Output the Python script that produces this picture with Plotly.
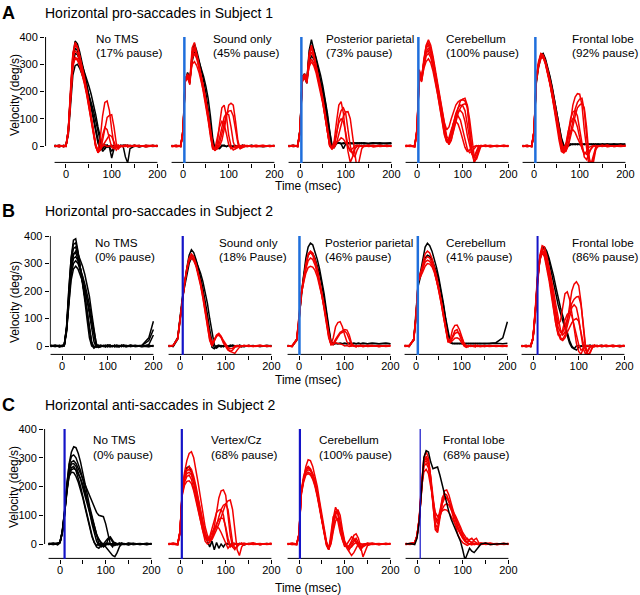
import plotly.graph_objects as go

# ---------------------------------------------------------------- data
# time base (msec) shared by every velocity trace
T = [-25, -15, -5, 0, 5, 10, 15, 20, 25, 30, 35, 40, 45, 50, 55, 60, 65,
     70, 75, 80, 85, 90, 95, 100, 105, 110, 115, 120, 125, 130, 135, 140,
     150, 160, 175, 190, 200]

# velocity traces (deg/s); _K = black (no pause), _R = red (pause)
# ---- row A : horizontal pro-saccades, subject 1
A1_K = [
    [2, -3, 3, 0, 60, 200, 330, 385, 375, 345, 310, 270, 230, 185, 140, 95, 50, 10, -10, -5, 0, 3, -2, 0, 2, -3, 0, 2, -2, 0, 3, -2, 2, -3, 2, 0, 2],
    [-3, 2, -2, 2, 40, 150, 260, 295, 300, 285, 265, 240, 215, 190, 160, 130, 95, 55, 15, -20, -10, 0, -5, -44, -10, 0, -5, 3, 0, -40, -62, -10, 0, 2, -3, 2, 0],
    [0, 3, -3, 0, 50, 180, 300, 340, 335, 315, 290, 260, 225, 190, 150, 110, 65, 20, -15, -10, 5, -5, 0, 3, -3, 0, 2, -2, 0, 3, -2, 2, 0, -3, 2, -2, 0],
    [3, -2, 0, 2, 55, 190, 320, 360, 350, 325, 300, 275, 250, 220, 190, 155, 115, 70, 25, -5, -10, 3, -3, -20, -5, 2, 0, -2, 3, 0, -2, 0, 3, -2, 0, 2, 0],
]
A1_R = [
    [0, -3, 2, 0, 45, 170, 290, 325, 320, 300, 270, 235, 195, 150, 100, 45, 0, -20, 30, 110, 160, 165, 130, 60, 5, -15, -5, 0, 2, -2, 0, 3, -2, 2, -2, 0, 2],
    [2, 0, -2, 3, 60, 210, 340, 380, 365, 330, 290, 250, 205, 160, 110, 55, 5, -25, -15, 20, 70, 105, 112, 115, 70, 10, -10, 0, -3, 2, 0, -2, 3, 0, -2, 2, 0],
    [-2, 3, 0, -2, 55, 190, 320, 350, 340, 310, 275, 240, 200, 155, 105, 50, 0, -25, -5, 40, 68, 60, 25, -5, -10, 0, 3, -2, 0, 2, -3, 0, 2, -2, 3, 0, -2],
    [0, 2, -3, 0, 50, 180, 300, 320, 315, 295, 265, 230, 190, 145, 95, 40, -5, -20, -15, 0, 15, 30, 40, 35, 15, -5, 0, 2, -2, 0, 3, -2, 0, 2, -3, 0, 2],
    [0, -2, 2, 0, 58, 205, 335, 370, 360, 330, 295, 255, 210, 160, 110, 55, 5, -15, -10, 0, 3, -2, 0, 2, -3, 0, 2, -2, 0, 3, -2, 0, 2, -2, 0, 3, -2],
]
A2_K = [
    [0, 2, -2, 60, 250, 255, 230, 340, 375, 350, 315, 280, 240, 195, 140, 75, 10, -12, -8, -10, 0, 3, -2, 2, 0, -3, 2, 0, -2, 3, 0, -2, 2, 0, -3, 0, 2],
    [2, -2, 0, 50, 240, 270, 250, 310, 345, 335, 310, 285, 255, 220, 175, 110, 30, -10, -5, -8, 3, 0, -2, 3, -2, 0, 2, -3, 0, 2, -2, 0, 3, -2, 0, 2, 0],
]
A2_R = [
    [0, 3, -2, 55, 245, 260, 240, 360, 380, 345, 300, 255, 210, 160, 105, 45, -10, -15, 10, 80, 140, 150, 110, 40, 0, -15, -10, 0, 2, -2, 0, 2, -3, 0, 2, -2, 0],
    [-2, 0, 3, 50, 235, 250, 225, 330, 355, 330, 295, 255, 215, 170, 115, 55, 0, -15, -10, 0, 20, 60, 110, 150, 157, 150, 90, 20, -10, 0, 2, -2, 0, 3, -2, 0, 2],
    [2, -3, 0, 55, 240, 265, 245, 300, 310, 295, 270, 240, 200, 155, 100, 40, -5, -15, -5, 30, 75, 105, 120, 115, 70, 15, -10, -5, 0, 2, -2, 0, 2, -3, 0, 2, -2],
    [0, 2, -2, 50, 245, 255, 235, 345, 365, 335, 290, 245, 200, 150, 95, 35, -10, -10, 25, 70, 90, 80, 45, 5, -10, -5, 0, 2, -2, 0, 3, -2, 0, 2, -2, 0, 2],
    [-3, 0, 2, 60, 250, 260, 240, 320, 340, 320, 290, 255, 215, 170, 120, 60, 5, -15, -10, 10, 40, 80, 115, 128, 130, 110, 60, 10, -10, -5, 0, 2, -2, 0, 3, -2, 0],
]
A3_K = [
    [2, -2, 0, 60, 255, 265, 240, 350, 390, 360, 320, 280, 240, 195, 145, 85, 20, -10, 5, 12, 10, 8, 12, 10, 8, 12, 10, 8, 10, 12, 8, 10, 8, 10, 8, 10, 8],
    [0, 3, -2, 55, 245, 250, 230, 310, 330, 320, 300, 270, 240, 205, 165, 110, 40, -5, 10, 8, 12, 10, 8, 12, 10, 8, 10, 12, 8, 10, 12, 8, 10, 12, 8, 10, 12],
    [-2, 2, 0, 58, 250, 260, 238, 335, 370, 355, 325, 295, 260, 220, 175, 120, 55, 5, -5, 10, 12, 8, -10, 8, 12, 10, 8, 10, 12, 8, 10, 12, 8, 10, 12, 8, 10],
]
A3_R = [
    [-2, 0, 2, 50, 240, 260, 235, 340, 370, 340, 300, 255, 210, 160, 105, 45, 0, -10, 20, 90, 150, 163, 120, 40, -20, -60, -40, -10, 0, 3, -2, 0, 2, -3, 0, 2, 0],
    [0, 2, -3, 55, 250, 255, 230, 300, 320, 305, 280, 245, 205, 160, 110, 50, 0, -10, -5, 10, 40, 80, 110, 125, 126, 100, 30, -40, -88, -50, -10, 0, 3, -2, 0, 2, 0],
    [2, -2, 0, 50, 235, 250, 240, 320, 345, 325, 290, 250, 210, 165, 115, 55, 5, -10, 0, 40, 100, 130, 140, 120, 60, 0, -30, -40, -15, 0, 2, -2, 0, 3, -2, 0, 2],
    [0, 3, -2, 55, 245, 265, 245, 290, 310, 295, 270, 235, 200, 155, 105, 50, 0, -10, 10, 50, 85, 100, 90, 50, 0, -20, -25, -10, 0, 2, -2, 0, 3, -2, 0, 2, -2],
    [-2, 0, 3, 60, 255, 260, 235, 330, 360, 335, 300, 260, 220, 175, 125, 70, 15, -10, 5, 15, 20, 30, 25, 10, 0, -15, -10, 0, 3, -2, 0, 2, -2, 0, 3, -2, 0],
]
A4_K = []
A4_R = [
    [0, 3, -2, 60, 270, 240, 310, 370, 390, 370, 330, 280, 230, 180, 130, 85, 60, 70, 100, 130, 150, 162, 168, 170, 165, 140, 60, -20, -55, -40, -15, 0, 2, -2, 0, 2, 0],
    [2, 0, -3, 55, 260, 250, 300, 345, 360, 345, 310, 265, 215, 160, 110, 60, 25, 20, 45, 85, 115, 128, 130, 120, 90, 40, 0, -30, -45, -25, -5, 2, 0, -2, 2, 0, -2],
    [-2, 2, 0, 65, 280, 245, 320, 365, 380, 360, 320, 270, 220, 170, 115, 65, 20, 5, 20, 60, 105, 140, 165, 172, 175, 150, 70, -10, -62, -45, -15, 0, 2, -3, 0, 2, 0],
    [0, -2, 3, 50, 255, 235, 290, 330, 340, 325, 290, 245, 195, 145, 95, 45, 15, 15, 40, 80, 105, 110, 95, 60, 20, -10, -25, -20, -10, 0, 2, -2, 0, 3, -2, 0, 2],
    [3, 0, -2, 60, 275, 255, 315, 360, 370, 350, 315, 270, 225, 175, 125, 75, 35, 25, 45, 85, 120, 140, 150, 148, 130, 80, 20, -25, -40, -20, 0, 2, -2, 0, 2, -2, 0],
    [0, 2, -2, 55, 265, 240, 285, 310, 320, 305, 275, 235, 190, 140, 90, 40, 15, 30, 60, 85, 90, 80, 55, 20, -5, -20, -15, -5, 0, 2, -2, 0, 3, -2, 0, 2, 0],
    [-2, 0, 2, 58, 268, 250, 305, 340, 350, 335, 300, 255, 205, 155, 105, 55, 20, 10, 25, 55, 90, 120, 140, 152, 155, 150, 100, 20, -35, -50, -20, 0, 2, 0, -2, 2, 0],
]
A5_K = [
    [0, 2, -2, 50, 240, 300, 335, 340, 320, 290, 255, 215, 170, 120, 70, 25, 0, -5, 5, 8, 5, 8, 5, 8, 5, 8, 5, 8, 5, 8, 5, 8, 5, 8, 5, 8, 5],
    [2, -2, 0, 45, 230, 290, 325, 335, 315, 285, 250, 210, 165, 115, 70, 30, 5, -5, 0, 5, 8, 5, 8, 5, 8, 5, 8, 5, 8, 5, 8, 5, 8, 5, 8, 5, 8],
]
A5_R = [
    [-2, 0, 2, 55, 250, 310, 340, 335, 310, 275, 235, 190, 140, 85, 30, -10, -25, -10, 30, 90, 150, 180, 192, 190, 150, 60, -20, -70, -80, -40, -10, 0, 2, -2, 0, 2, 0],
    [0, 3, -2, 50, 240, 295, 330, 330, 305, 270, 230, 185, 140, 95, 50, 5, -20, -15, 0, 30, 70, 110, 140, 150, 157, 140, 70, -30, -90, -60, -15, 0, 3, -2, 0, 2, 0],
    [2, -2, 0, 55, 245, 305, 335, 330, 305, 270, 230, 180, 125, 70, 20, -20, -25, 0, 50, 100, 125, 130, 110, 60, 0, -40, -50, -30, -10, 0, 2, -2, 0, 3, -2, 0, 2],
    [0, 2, -3, 50, 235, 290, 320, 325, 300, 265, 225, 180, 130, 80, 30, -5, -15, 10, 55, 85, 100, 95, 70, 30, -10, -30, -20, -5, 0, 2, -2, 0, 2, -2, 0, 2, 0],
    [-2, 0, 2, 55, 250, 300, 330, 330, 310, 280, 245, 205, 160, 110, 60, 15, -10, 5, 35, 55, 60, 50, 30, 10, -10, -25, -30, -20, -10, 0, 2, -2, 0, 3, -2, 0, 2],
    [0, -2, 2, 52, 245, 300, 328, 328, 305, 272, 232, 188, 142, 92, 42, 0, -22, -20, 5, 45, 95, 135, 160, 172, 175, 130, 40, -45, -65, -30, -5, 0, -2, 2, 0, -2, 0],
]

# ---- row B : horizontal pro-saccades, subject 2
B1_K = [
    [0, 3, -2, 0, 5, 70, 200, 320, 385, 390, 345, 290, 230, 165, 95, 30, 0, -5, 3, 0, 3, -2, 0, 2, -3, 0, 2, 0, -2, 3, 0, -2, 2, 0, 3, 30, 90],
    [2, -2, 0, 3, 0, 50, 150, 240, 280, 290, 280, 260, 235, 205, 170, 130, 85, 35, 0, -5, 2, 0, -3, 2, 0, -2, 3, 0, 2, -2, 0, 3, -2, 0, 2, 20, 60],
    [-2, 0, 3, -2, 3, 60, 180, 290, 335, 340, 315, 275, 230, 180, 125, 65, 15, -5, 0, 3, -2, 2, 0, -3, 2, 0, -2, 3, 0, 2, -2, 0, 3, -2, 0, -3, 2],
    [0, 2, -3, 2, 5, 65, 190, 305, 355, 360, 330, 285, 235, 180, 120, 55, 5, -8, 0, 2, -2, 0, 3, -2, 0, 2, -3, 0, 2, -2, 3, 0, -2, 2, 0, 3, -2],
    [3, 0, -2, 0, 2, 55, 165, 260, 300, 310, 300, 280, 255, 225, 190, 150, 100, 50, 10, -5, 0, 2, -2, 3, 0, -2, 2, 0, -3, 2, 0, -2, 3, 0, -2, 5, 40],
    [-2, 3, 0, -2, 4, 70, 210, 320, 370, 375, 340, 290, 240, 185, 125, 60, 10, -5, 2, -3, 0, 2, -2, 0, 3, -2, 0, 2, -2, 0, 3, -2, 0, 2, -3, 0, 2],
    [0, -2, 2, 0, 3, 58, 175, 275, 318, 325, 310, 285, 250, 210, 165, 115, 60, 15, -5, 0, 2, -2, 0, 3, -2, 0, 2, -3, 0, 2, -2, 0, 2, -2, 0, 2, 0],
    [2, 0, -2, 0, 4, 62, 185, 285, 330, 345, 335, 315, 290, 260, 225, 180, 120, 55, 5, -5, 0, 2, -2, 0, 3, -2, 0, 2, -2, 0, 2, -3, 0, 2, 0, -2, 0],
]
B1_R = []
B2_K = [
    [0, 2, 30, 100, 180, 230, 285, 330, 350, 340, 315, 285, 250, 210, 165, 115, 60, 15, -5, -8, 0, 2, -3, 2, 0, -2, 3, 0, -2, 2, 0, -3, 2, 0, 2, -2, 0],
    [2, -2, 25, 90, 170, 225, 275, 315, 330, 325, 310, 290, 265, 235, 200, 155, 100, 45, 5, -5, 0, -3, 2, 0, -2, 3, 0, -2, 2, 0, -3, 2, 0, 2, -2, 0, 2],
    [-2, 0, 30, 95, 175, 215, 260, 300, 320, 315, 295, 265, 230, 190, 140, 85, 30, -5, -10, 0, 3, -2, 0, 2, -3, 0, 2, 0, -2, 3, 0, -2, 2, 0, -2, 3, 0],
]
B2_R = [
    [0, 3, 25, 95, 175, 225, 280, 320, 335, 325, 300, 265, 225, 180, 130, 75, 25, 0, 20, 40, 46, 35, 15, 0, -10, -20, -25, -27, -15, -5, 0, 2, -2, 0, 3, -2, 0],
    [2, 0, 30, 100, 180, 230, 275, 310, 320, 310, 290, 260, 220, 175, 125, 70, 20, 0, 15, 35, 40, 30, 10, -5, -15, -20, -15, -5, 0, 2, -2, 0, 3, -2, 0, 2, -2],
    [-2, 2, 28, 98, 178, 228, 282, 318, 328, 318, 296, 268, 232, 190, 142, 90, 40, 10, 25, 38, 42, 35, 20, 5, -5, -10, -8, 0, 2, -2, 0, 2, 0, -2, 2, 0, -2],
]
B3_K = [
    [0, -2, 20, 90, 190, 260, 320, 360, 374, 368, 345, 315, 280, 240, 190, 130, 65, 15, 8, 10, 8, 10, 8, 10, 8, 10, 8, 10, 8, 10, 8, 10, 8, 10, 8, 10, 8],
    [2, 0, 25, 95, 185, 250, 300, 330, 340, 336, 320, 295, 262, 222, 175, 120, 60, 15, 5, 10, 8, 10, 8, 10, 8, 10, 8, 10, 8, 10, 8, 10, 8, 10, 8, 10, 8],
]
B3_R = [
    [-2, 2, 25, 100, 195, 240, 290, 330, 340, 330, 305, 270, 230, 185, 135, 80, 30, 5, 30, 70, 85, 88, 70, 40, 15, 5, 0, 2, -2, 0, 3, -2, 0, 2, -2, 0, 2],
    [0, 2, 20, 95, 190, 230, 265, 285, 290, 287, 275, 252, 220, 182, 140, 90, 40, 5, 5, 20, 35, 45, 50, 55, 45, 25, 5, 0, -3, 2, 0, -2, 3, 0, -2, 2, 0],
    [2, -2, 25, 90, 185, 235, 280, 310, 320, 315, 295, 265, 228, 185, 140, 88, 35, 5, 10, 25, 40, 50, 55, 60, 58, 40, 10, 0, 2, -2, 0, 3, -2, 0, 2, -2, 0],
    [0, -2, 22, 92, 188, 245, 300, 335, 345, 338, 315, 282, 242, 198, 150, 95, 40, 8, 8, 12, 10, 8, 5, 0, 2, -2, 0, 2, -2, 0, 2, -2, 0, 2, -2, 0, 2],
]
B4_K = [
    [0, 2, 20, 110, 230, 270, 320, 360, 374, 365, 345, 318, 285, 248, 205, 155, 100, 50, 15, 10, 8, 10, 8, 10, 8, 10, 8, 10, 8, 10, 8, 10, 8, 10, 12, 30, 88],
    [2, -2, 25, 105, 220, 255, 295, 320, 330, 326, 314, 294, 268, 235, 195, 148, 95, 45, 12, 8, 10, 8, 10, 8, 10, 8, 10, 8, 10, 8, 10, 8, 10, 8, 10, 8, 10],
]
B4_R = [
    [-2, 0, 25, 110, 240, 260, 300, 335, 345, 338, 318, 290, 255, 212, 165, 112, 60, 20, 25, 60, 75, 76, 60, 30, 10, 0, 2, -2, 0, 3, -2, 0, 2, -2, 0, 2, 0],
    [0, 3, 20, 100, 235, 250, 270, 290, 300, 298, 288, 268, 240, 205, 165, 115, 65, 25, 15, 30, 45, 50, 45, 30, 10, 0, -2, 2, 0, -3, 2, 0, -2, 2, 0, -2, 2],
    [3, 0, 25, 105, 245, 265, 290, 315, 325, 320, 302, 275, 240, 200, 155, 105, 55, 15, 15, 35, 55, 60, 40, 15, 0, -5, 0, 2, -2, 0, 2, -3, 0, 2, -2, 0, 2],
    [0, -2, 22, 108, 238, 258, 285, 305, 312, 308, 295, 272, 240, 202, 158, 108, 58, 18, 12, 22, 28, 30, 25, 12, 2, 0, -2, 2, 0, -2, 2, 0, -2, 0, 2, 0, -2],
]
B5_K = [
    [0, 2, -2, 30, 120, 250, 320, 355, 360, 345, 320, 290, 255, 215, 175, 140, 110, 80, 50, 20, 0, -10, -15, -5, 0, 2, -2, 0, 3, -2, 0, 2, -2, 0, 2, -3, 0],
    [2, -2, 0, 25, 110, 240, 310, 350, 355, 340, 310, 270, 225, 185, 150, 120, 90, 60, 30, 10, -5, -10, 0, 2, -2, 0, 3, -2, 0, 2, -2, 0, 3, -2, 0, 2, 0],
]
B5_R = [
    [-2, 0, 2, 30, 130, 255, 330, 365, 360, 330, 290, 245, 200, 150, 100, 60, 40, 50, 90, 150, 200, 225, 234, 220, 160, 70, -10, -39, -20, -5, 0, 2, -2, 0, 3, -2, 0],
    [0, 2, -2, 25, 125, 250, 320, 355, 350, 320, 280, 230, 175, 120, 80, 90, 150, 190, 197, 170, 120, 60, 10, -20, -30, -10, 0, 2, -2, 0, 3, -2, 0, 2, -2, 0, 2],
    [2, -3, 0, 30, 135, 260, 325, 350, 340, 305, 260, 210, 155, 100, 55, 30, 25, 40, 75, 115, 140, 150, 140, 100, 40, -10, -30, -15, 0, 2, -2, 0, 3, -2, 0, 2, -2],
    [0, 2, -2, 28, 120, 245, 315, 345, 335, 300, 255, 200, 140, 80, 40, 35, 60, 95, 115, 120, 110, 80, 40, 5, -15, -10, 0, 2, -2, 0, 3, -2, 0, 2, -2, 0, 2],
    [-2, 0, 3, 30, 128, 252, 318, 340, 330, 295, 250, 200, 150, 105, 70, 50, 50, 70, 100, 130, 155, 170, 178, 180, 150, 80, 0, -30, -25, -5, 0, 2, -2, 0, 2, -2, 0],
    [0, -2, 2, 27, 118, 242, 312, 338, 325, 288, 240, 185, 130, 80, 45, 25, 20, 30, 50, 70, 85, 95, 100, 90, 50, 10, -15, -20, -5, 0, 2, -2, 0, 3, -2, 0, 2],
]

# ---- row C : horizontal anti-saccades, subject 2
C1_K = [
    [0, 3, -2, 5, 40, 100, 200, 280, 320, 338, 335, 315, 285, 250, 210, 170, 130, 95, 60, 25, 0, -10, -5, 3, -2, 0, 2, -2, 0, 3, -2, 0, 2, -2, 0, 2, 0],
    [2, -2, 0, 8, 45, 110, 200, 260, 285, 290, 280, 265, 245, 225, 205, 185, 165, 145, 125, 110, 100, 98, 95, 70, 30, 0, -10, 5, 0, -2, 3, 0, -2, 2, 0, -2, 2],
    [-2, 0, 3, 5, 40, 105, 190, 245, 265, 270, 255, 230, 200, 165, 130, 95, 60, 30, 5, -10, -15, -5, 0, 10, 20, 25, 10, 0, -3, 2, 0, -2, 3, 0, -2, 2, 0],
    [0, 2, -2, 6, 42, 108, 195, 255, 278, 280, 270, 250, 225, 195, 165, 135, 105, 75, 50, 30, 15, 5, 0, -10, -20, -30, -40, -44, -30, -10, 0, 2, -2, 0, 2, -2, 0],
    [3, 0, -2, 4, 38, 100, 185, 235, 250, 248, 235, 215, 190, 160, 125, 90, 55, 25, 5, -5, 0, 5, -5, 0, 3, -2, 0, 2, -2, 0, 3, -2, 0, 2, -2, 0, 2],
    [-2, 2, 0, 7, 45, 115, 210, 275, 305, 310, 300, 280, 255, 225, 190, 150, 110, 70, 35, 10, -5, 0, -8, -3, 2, 0, -2, 3, 0, -2, 2, 0, -3, 2, 0, -2, 0],
    [0, -2, 2, 6, 40, 105, 192, 245, 258, 262, 258, 245, 228, 205, 180, 150, 118, 88, 60, 35, 15, 0, -10, -5, 15, 20, 5, -5, 0, 2, -2, 0, 2, -2, 0, 2, 0],
]
C1_R = []
C2_K = [
    [0, 2, -2, 40, 180, 240, 265, 270, 250, 220, 180, 140, 100, 60, 30, 10, -10, 10, -20, 5, -15, 0, -10, 2, 0, -2, 3, 0, -2, 2, 0, -3, 2, 0, -2, 2, 0],
]
C2_R = [
    [2, 0, -2, 45, 190, 250, 290, 315, 321, 300, 260, 210, 160, 110, 60, 30, 15, 25, 60, 110, 160, 185, 188, 170, 100, 30, -10, -20, -5, 0, 2, -2, 0, 3, -2, 0, 2],
    [-2, 2, 0, 40, 185, 230, 255, 260, 250, 225, 190, 150, 110, 70, 40, 20, 10, 15, 30, 50, 70, 95, 120, 140, 150, 153, 120, 40, -20, -40, -10, 0, 2, -2, 0, 2, -2],
    [0, -2, 2, 42, 175, 215, 235, 240, 225, 195, 160, 120, 80, 45, 20, 10, 25, 55, 90, 110, 118, 120, 100, 50, 5, -10, 0, 2, -2, 0, 3, -2, 0, 2, -2, 0, 2],
    [2, 0, -3, 38, 170, 205, 218, 220, 210, 185, 150, 110, 70, 35, 10, 0, 5, 25, 50, 70, 85, 90, 88, 60, 20, -5, -10, 0, 2, -2, 0, 3, -2, 0, 2, -2, 0],
    [0, 3, 0, 44, 185, 235, 260, 270, 260, 235, 200, 160, 115, 70, 35, 15, 20, 40, 55, 60, 55, 40, 20, 0, -15, -5, 0, 2, -2, 0, 2, -2, 0, 3, -2, 0, 2],
    [-2, 0, 2, 41, 180, 225, 245, 250, 240, 215, 180, 140, 100, 60, 30, 15, 10, 20, 40, 65, 95, 120, 135, 140, 120, 60, 5, -15, -10, 0, 2, -2, 0, 2, -2, 0, 2],
]
C3_K = []
C3_R = [
    [0, 2, -2, 35, 180, 230, 270, 293, 290, 270, 240, 200, 150, 100, 50, 10, -15, 20, 90, 128, 110, 60, 20, 0, -10, -20, -5, 10, 20, 5, -10, -5, 2, 0, -2, 2, 0],
    [2, -2, 0, 30, 175, 220, 250, 258, 255, 240, 215, 180, 135, 85, 40, 0, -20, 10, 70, 110, 112, 75, 30, 5, -15, -30, -40, -30, -15, 0, 2, -2, 0, 3, -2, 0, 2],
    [-2, 0, 2, 32, 170, 215, 240, 245, 240, 225, 200, 165, 120, 75, 30, -5, -20, 30, 95, 100, 80, 40, 10, -10, 0, 15, 25, 20, 5, -10, -20, -10, 0, 2, -2, 0, 2],
    [0, 3, 0, 34, 185, 235, 262, 270, 262, 245, 220, 185, 140, 90, 45, 5, -18, 0, 45, 80, 90, 60, 25, 0, -10, -5, 10, 30, 35, 20, -10, -45, -5, 0, 2, -2, 0],
    [2, 0, -3, 33, 178, 225, 245, 250, 245, 230, 205, 170, 125, 80, 35, 0, -15, 5, 55, 100, 120, 100, 50, 10, -5, -15, -10, 0, 5, -5, -15, -5, 3, 0, -2, 2, 0],
    [0, -2, 2, 36, 182, 228, 255, 265, 258, 240, 212, 175, 130, 82, 38, 2, -18, 15, 80, 115, 105, 55, 15, -5, -12, -8, 5, 15, 10, 0, -5, 0, 2, -2, 0, 2, 0],
]
C4_K = [
    [0, 2, -2, 20, 80, 200, 300, 325, 320, 285, 262, 265, 268, 240, 205, 170, 140, 110, 85, 65, 45, 25, 10, -20, -55, -35, -15, -25, -30, -20, -10, 0, 3, -2, 0, 2, 0],
]
C4_R = [
    [2, 0, 5, 30, 90, 210, 300, 320, 300, 230, 130, 50, 40, 90, 150, 185, 188, 170, 140, 110, 80, 55, 35, 20, 10, 5, 15, 20, 10, 5, 0, 3, -2, 0, 2, -2, 0],
    [0, -2, 4, 25, 85, 200, 280, 290, 275, 220, 140, 70, 55, 100, 140, 158, 160, 150, 125, 100, 75, 55, 40, 25, 15, 20, 10, 5, 0, 2, -2, 0, 3, 0, -2, 2, 0],
    [-2, 2, 5, 28, 88, 205, 270, 280, 265, 215, 150, 90, 70, 95, 120, 135, 140, 135, 120, 105, 90, 70, 50, 30, 15, 5, 0, 2, 15, 20, 5, 0, 2, -2, 0, 2, -2],
    [2, 0, 3, 30, 92, 215, 290, 300, 285, 225, 135, 60, 45, 110, 160, 175, 170, 150, 120, 85, 55, 30, 15, 5, 0, -5, 0, 3, -2, 0, 2, -2, 0, 3, -2, 0, 2],
    [0, 3, 4, 26, 86, 198, 250, 260, 245, 200, 150, 110, 95, 105, 115, 120, 118, 110, 95, 80, 60, 45, 30, 20, 10, 3, 0, -3, 2, 0, -2, 3, 0, 2, -2, 0, 2],
    [-2, 0, 5, 28, 88, 205, 285, 305, 290, 235, 160, 95, 80, 120, 150, 165, 162, 145, 125, 110, 95, 80, 60, 40, 25, 15, 10, 5, 0, 2, -2, 0, 2, -2, 0, 2, 0],
]

# labels
ROW_TITLES = {"A": "Horizontal pro-saccades in Subject 1",
              "B": "Horizontal pro-saccades in Subject 2",
              "C": "Horizontal anti-saccades in Subject 2"}
A_SITES = ["No TMS", "Sound only", "Posterior parietal", "Cerebellum", "Frontal lobe"]
A_PAUSE = ["(17% pause)", "(45% pause)", "(73% pause)", "(100% pause)", "(92% pause)"]
B_SITES = ["No TMS", "Sound only", "Posterior parietal", "Cerebellum", "Frontal lobe"]
B_PAUSE = ["(0% pause)", "(18% Pause)", "(46% pause)", "(41% pause)", "(86% pause)"]
C_SITES = ["No TMS", "Vertex/Cz", "Cerebellum", "Frontal lobe"]
C_PAUSE = ["(0% pause)", "(68% pause)", "(100% pause)", "(68% pause)"]
# time of TMS pulse marker (msec), None = no marker
A_PULSE = [None, 3, 3, 3, 3]
B_PULSE = [None, 6, 1, 4, 10]
C_PULSE = [10, 4, 2, 7]

# ---------------------------------------------------------------- layout
W, H = 640, 595
FONT = "Liberation Sans, Arial, Helvetica, sans-serif"
RED = "#f20000"
LBLUE = "#1f6fdc"
DBLUE = "#1414c8"
SX = 0.457  # px per msec
LAB_SIZE = 11.7

ROW_GEOM = {
    "A": dict(zeros=[66, 183, 300, 417, 534], y400=37, y0=146, axis=163, xmin=-46,
              lab_x=[95, 212, 325, 445, 571], lab_y=(39, 52), title_y=13,
              time_y=186, vel_y=95, vel_x=15,
              pulse_col=[None, LBLUE, LBLUE, LBLUE, LBLUE], pulse_w=[0, 2.5, 2.5, 2.5, 2.5]),
    "B": dict(zeros=[62, 180, 299, 416, 533], y400=236, y0=346, axis=355, xmin=-27,
              lab_x=[94, 218, 324, 445, 571], lab_y=(242, 256), title_y=211,
              time_y=380, vel_y=302, vel_x=15,
              pulse_col=[None, DBLUE, LBLUE, LBLUE, DBLUE], pulse_w=[0, 2.2, 2.5, 2.5, 2]),
    "C": dict(zeros=[60, 180, 299, 417], y400=429, y0=544, axis=559, xmin=-35,
              lab_x=[92, 210, 318, 442], lab_y=(439, 454), title_y=405,
              time_y=588, vel_y=487, vel_x=14,
              pulse_col=[DBLUE, DBLUE, DBLUE, DBLUE], pulse_w=[2.2, 2.2, 2.2, 1.2]),
}

ROWS = [
    ("A", [(A1_K, A1_R), (A2_K, A2_R), (A3_K, A3_R), (A4_K, A4_R), (A5_K, A5_R)], A_SITES, A_PAUSE, A_PULSE),
    ("B", [(B1_K, B1_R), (B2_K, B2_R), (B3_K, B3_R), (B4_K, B4_R), (B5_K, B5_R)], B_SITES, B_PAUSE, B_PULSE),
    ("C", [(C1_K, C1_R), (C2_K, C2_R), (C3_K, C3_R), (C4_K, C4_R)], C_SITES, C_PAUSE, C_PULSE),
]


def note(x_px, y_px, text, size, **kw):
    d = dict(x=x_px / W, y=1 - y_px / H, text=text, xref="paper", yref="paper",
             xanchor="left", yanchor="middle", showarrow=False, borderpad=0,
             font=dict(size=size))
    d.update(kw)
    return d


fig = go.Figure()
shapes = []
annotations = []
k = 0
for row, panels, sites, pauses, pulses in ROWS:
    g = ROW_GEOM[row]
    sy = (g["y0"] - g["y400"]) / 400.0
    ymin = -(g["axis"] - g["y0"]) / sy
    ymax = 410
    top_px = g["y400"] - 10 * sy
    for col, (blk, red) in enumerate(panels):
        k += 1
        xs = "" if k == 1 else str(k)
        z = g["zeros"][col]
        xmin = g["xmin"] if col == 0 else -30
        xmax = 205
        fig.layout["xaxis" + xs] = dict(
            domain=[(z + xmin * SX) / W, (z + xmax * SX) / W], range=[xmin, xmax],
            anchor="y" + xs, showgrid=False, zeroline=False, showline=False,
            tickvals=[0, 50, 100, 150, 200], ticktext=["0", "", "100", "", "200"],
            ticks="outside", ticklen=4, tickwidth=1, tickcolor="black",
            ticklabelstandoff=-3,
            tickfont=dict(size=11, color="black"), fixedrange=True)
        yax = dict(domain=[1 - g["axis"] / H, 1 - top_px / H], range=[ymin, ymax],
                   anchor="x" + xs, showgrid=False, zeroline=False, showline=False,
                   fixedrange=True)
        if col == 0:
            yax.update(tickvals=[0, 100, 200, 300, 400], ticks="outside", ticklen=4,
                       tickwidth=1, tickcolor="black", tickfont=dict(size=11, color="black"))
        else:
            yax.update(showticklabels=False, ticks="")
        fig.layout["yaxis" + xs] = yax

        # black under red, except the last anti-saccade panel
        groups = [(blk, "black"), (red, RED)]
        if row == "C" and col == 3:
            groups = groups[::-1]
        for traces, colr in groups:
            for v in traces:
                if len(v) != len(T):
                    raise ValueError(f"{row}{col + 1} trace length {len(v)}")
                fig.add_trace(go.Scatter(x=T, y=v, mode="lines", xaxis="x" + xs, yaxis="y" + xs,
                                         line=dict(color=colr, width=1.5), showlegend=False,
                                         hoverinfo="skip"))

        # detached axis lines
        shapes.append(dict(type="line", xref="x" + xs, yref="y" + xs, x0=-25, x1=200,
                           y0=ymin + 0.6 / sy, y1=ymin + 0.6 / sy, line=dict(color="black", width=1)))
        if col == 0:
            shapes.append(dict(type="line", xref="x" + xs, yref="y" + xs,
                               x0=xmin + 0.6 / SX, x1=xmin + 0.6 / SX, y0=0, y1=400,
                               line=dict(color="black", width=1)))
        if pulses[col] is not None:
            shapes.append(dict(type="line", xref="x" + xs, yref="y" + xs, x0=pulses[col], x1=pulses[col],
                               y0=ymin, y1=400, layer="above",
                               line=dict(color=g["pulse_col"][col], width=g["pulse_w"][col])))

        annotations.append(note(g["lab_x"][col], g["lab_y"][0], sites[col], LAB_SIZE))
        annotations.append(note(g["lab_x"][col], g["lab_y"][1], pauses[col], LAB_SIZE))

    annotations.append(note(1, g["title_y"], "<b>" + row + "</b>", 18))
    annotations.append(note(44, g["title_y"], ROW_TITLES[row], 14))
    annotations.append(note(g["vel_x"], g["vel_y"], "Velocity (deg/s)", 12,
                            textangle=-90, xanchor="center"))
    annotations.append(note(274, g["time_y"], "Time (msec)", 12))

fig.update_layout(
    width=W, height=H, autosize=False, template="none",
    margin=dict(l=0, r=0, t=0, b=0),
    paper_bgcolor="white", plot_bgcolor="rgba(0,0,0,0)",
    font=dict(family=FONT, color="black"),
    shapes=shapes, annotations=annotations, showlegend=False,
)

# page has a default 8px body margin; drop it so the figure fills the window
fig.write_html("out.html", config={"displayModeBar": False},
               post_script="document.body.style.margin='0';document.body.style.overflow='hidden';")
